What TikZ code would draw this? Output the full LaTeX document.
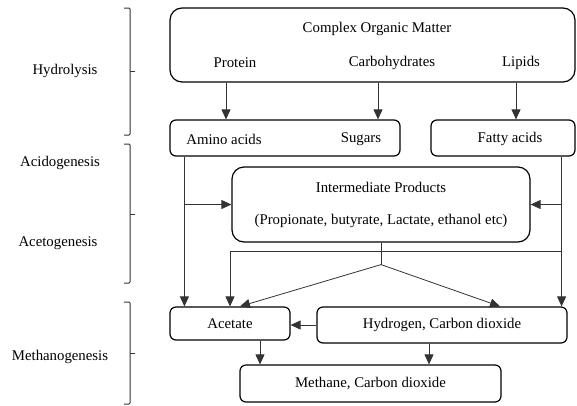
\documentclass[tikz,border=0pt]{standalone}
\usepackage{fontspec}
\setmainfont{Liberation Serif}
\usepackage{tikz}
\usetikzlibrary{positioning, shapes, calc, arrows.meta}

\begin{document}
\begin{tikzpicture}[
    x=1pt, y=-1pt,
    every node/.style={font=\fontsize{14.8}{18}\selectfont, inner sep=0pt},
    bigbox/.style={draw, line width=1.2pt, rounded corners=12pt},
    smallbox/.style={draw, line width=1.2pt, rounded corners=6pt},
    arr/.style={-{Triangle[length=10pt, width=9pt]}, draw=black!80, line width=0.8pt},
    link/.style={draw=black!80, line width=0.8pt},
    phasebrace/.style={draw=black!80, line width=1pt, rounded corners=1pt}
]
\useasboundingbox (0,0) rectangle (577,405);

% Hydrolysis: organic matter split into monomers
\node[bigbox, minimum width=405pt, minimum height=74pt] (com) at (372.5,45) {};
\node (comt) at (377,29) {Complex Organic Matter};
\node (prot) at (235,63) {Protein};
\node (carb) at (392,63) {Carbohydrates};
\node (lip) at (521,63) {Lipids};

\node[smallbox, minimum width=230pt, minimum height=36pt] (aas) at (285,138) {};
\node (amino) at (224,139) {Amino acids};
\node (sug) at (361,139) {Sugars};
\node[smallbox, minimum width=144pt, minimum height=36pt] (fat) at (503,138) {};
\node (fatt) at (510,139) {Fatty acids};

\draw[arr] ([xshift=-59pt]aas.north |- com.south) -- ([xshift=-59pt]aas.north);
\draw[arr] ([xshift=93pt]aas.north |- com.south) -- ([xshift=93pt]aas.north);
\draw[arr] ([xshift=13pt]fat.north |- com.south) -- ([xshift=13pt]fat.north);

% Acidogenesis and acetogenesis
\node[bigbox, minimum width=298pt, minimum height=75pt, align=center] (inter) at (381,204.5)
    {Intermediate Products\\[14pt](Propionate, butyrate, Lactate, ethanol etc)};

% Methanogenesis
\node[smallbox, minimum width=120pt, minimum height=33pt] (acet) at (230,323.5) {Acetate};
\node[smallbox, minimum width=250pt, minimum height=36pt] (hyd) at (442,325) {Hydrogen, Carbon dioxide};
\node[smallbox, minimum width=261pt, minimum height=37pt] (meth) at (370.5,383.5) {Methane, Carbon dioxide};

\coordinate (aax) at ([xshift=15pt]aas.south west);
\coordinate (fax) at ([xshift=-14pt]fat.south east);
\coordinate (hl) at ([yshift=-9pt]inter.south);
\coordinate (jn) at ([yshift=-22pt]inter.south);

\draw[arr] (aax) -- (aax |- acet.north);
\draw[arr] (aax |- inter.west) -- (inter.west);
\draw[arr] (fax) -- (fax |- hyd.north);
\draw[arr] (fax |- inter.east) -- (inter.east);
\draw[arr] (fax |- hl) -| (acet.north);
\draw[link] (inter.south) -- (jn);
\draw[arr] (jn) -- ([xshift=10pt]acet.north);
\draw[arr] (jn) -- ([xshift=58pt]hyd.north);
\draw[arr] (hyd.west) -- (hyd.west -| acet.east);
\draw[arr] ([xshift=30pt]acet.south) -- ([xshift=30pt]acet.south |- meth.north);
\draw[arr] ([xshift=-13pt]hyd.south) -- ([xshift=-13pt]hyd.south |- meth.north);

% Stage brackets
\draw[phasebrace] (124,8) -- (130,8) -- (130,135) -- (124,135);
\draw[phasebrace] (130,71) -- (135,71);
\draw[phasebrace] (124,144) -- (130,144) -- (130,283) -- (124,283);
\draw[phasebrace] (130,214) -- (135,214);
\draw[phasebrace] (124,302) -- (130,302) -- (130,404) -- (124,404);
\draw[phasebrace] (130,353) -- (135,353);
\node (hydro) at (65,71) {Hydrolysis};
\node (acido) at (60,163) {Acidogenesis};
\node (aceto) at (58,243) {Acetogenesis};
\node (metha) at (60,357) {Methanogenesis};

\end{tikzpicture}
\end{document}
